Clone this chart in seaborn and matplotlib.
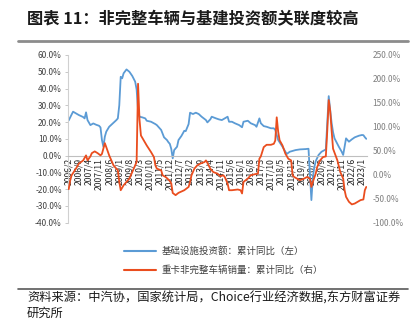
import matplotlib
matplotlib.use("Agg")
import matplotlib.pyplot as plt
from matplotlib.lines import Line2D
from matplotlib.ticker import FuncFormatter
import pandas as pd
import seaborn as sns

# 基础设施投资额：累计同比（%）
infra_months = [
    "2006-02", "2006-04", "2006-05", "2006-07", "2006-09", "2006-12", "2007-01", "2007-02",
    "2007-03", "2007-05", "2007-07", "2007-09", "2007-11", "2007-12", "2008-01", "2008-02",
    "2008-03", "2008-04", "2008-06", "2008-08", "2008-11", "2008-12", "2009-01", "2009-02",
    "2009-03", "2009-04", "2009-06", "2009-08", "2009-10", "2009-12", "2010-01", "2010-02",
    "2010-03", "2010-05", "2010-07", "2010-08", "2010-11", "2011-02", "2011-03", "2011-06",
    "2011-08", "2011-10", "2011-11", "2011-12", "2012-01", "2012-02", "2012-03", "2012-05",
    "2012-06", "2012-08", "2012-10", "2012-11", "2013-01", "2013-02", "2013-04", "2013-06",
    "2013-08", "2013-10", "2014-01", "2014-02", "2014-04", "2014-05", "2014-08", "2014-10",
    "2014-12", "2015-02", "2015-04", "2015-05", "2015-07", "2015-09", "2015-12", "2016-02",
    "2016-03", "2016-06", "2016-08", "2016-11", "2016-12", "2017-02", "2017-03", "2017-05",
    "2017-07", "2017-10", "2017-12", "2018-01", "2018-02", "2018-03", "2018-06", "2018-08",
    "2018-09", "2018-11", "2019-03", "2019-06", "2019-10", "2019-12", "2020-02", "2020-03",
    "2020-04", "2020-05", "2020-07", "2020-09", "2020-12", "2021-02", "2021-03", "2021-04",
    "2021-05", "2021-06", "2021-09", "2021-11", "2021-12", "2022-02", "2022-04", "2022-06",
    "2022-08", "2022-11", "2023-01", "2023-02", "2023-03", "2023-04",
]
infra_yoy = [
    21.0, 24.5, 26.2, 25.2, 24.2, 23.0, 22.2, 25.8,
    21.2, 18.2, 19.2, 18.4, 17.8, 16.8, 9.3, 5.3,
    11.3, 14.3, 17.2, 18.8, 21.2, 22.2, 30.0, 47.0,
    46.1, 49.1, 51.4, 50.0, 47.5, 44.1, 39.5, 27.0,
    23.2, 22.8, 22.2, 20.8, 20.2, 18.8, 18.2, 15.3,
    10.9, 9.3, 8.0, 7.0, 4.0, -1.6, 3.3, 5.3,
    9.3, 11.7, 14.8, 14.6, 18.8, 25.6, 24.8, 25.6,
    24.8, 23.2, 21.2, 19.8, 21.6, 23.2, 22.2, 21.6,
    21.2, 22.2, 23.2, 20.2, 20.2, 19.3, 18.2, 16.9,
    20.2, 20.8, 19.3, 18.2, 17.2, 22.2, 19.3, 17.6,
    17.2, 16.3, 16.3, 15.3, 12.3, 9.3, 5.3, 2.3,
    1.0, 2.3, 3.3, 3.7, 3.9, 4.1, -26.5, -13.0,
    -7.0, -3.3, 0.4, 2.3, 3.7, 35.5, 27.2, 19.5,
    14.0, 10.3, 5.3, 2.3, 0.4, 10.3, 8.3, 9.7,
    10.9, 11.9, 12.3, 12.2, 11.0, 10.0,
]

# 重卡非完整车辆销量：累计同比（%）
truck_months = [
    "2006-02", "2006-03", "2006-04", "2006-07", "2006-09", "2006-12", "2007-02", "2007-03",
    "2007-05", "2007-06", "2007-08", "2007-10", "2007-12", "2008-01", "2008-03", "2008-04",
    "2008-06", "2008-07", "2008-09", "2008-12", "2009-01", "2009-02", "2009-04", "2009-06",
    "2009-08", "2009-10", "2009-12", "2010-01", "2010-02", "2010-03", "2010-04", "2010-06",
    "2010-08", "2010-11", "2011-01", "2011-02", "2011-03", "2011-06", "2011-07", "2011-09",
    "2011-10", "2011-12", "2012-01", "2012-02", "2012-04", "2012-06", "2012-10", "2013-01",
    "2013-02", "2013-03", "2013-05", "2013-07", "2013-09", "2013-12", "2014-01", "2014-02",
    "2014-04", "2014-06", "2014-09", "2014-11", "2015-01", "2015-02", "2015-04", "2015-05",
    "2015-07", "2015-11", "2016-01", "2016-02", "2016-03", "2016-06", "2016-08", "2016-11",
    "2017-01", "2017-02", "2017-03", "2017-05", "2017-07", "2017-10", "2017-12", "2018-01",
    "2018-02", "2018-03", "2018-04", "2018-06", "2018-08", "2018-10", "2018-12", "2019-01",
    "2019-02", "2019-04", "2019-06", "2019-09", "2019-11", "2020-01", "2020-02", "2020-03",
    "2020-05", "2020-06", "2020-08", "2020-10", "2020-12", "2021-01", "2021-02", "2021-03",
    "2021-04", "2021-05", "2021-08", "2021-10", "2021-12", "2022-01", "2022-02", "2022-04",
    "2022-06", "2022-08", "2022-12", "2023-02", "2023-03", "2023-04",
]
truck_yoy = [
    -30.0, -12.0, -1.0, 12.9, 23.2, 30.0, 40.5, 30.0,
    38.4, 45.2, 48.8, 45.2, 40.5, 43.6, 66.0, 57.7,
    40.5, 33.6, 19.7, 9.3, -14.9, -32.2, -21.8, -14.9,
    -7.9, 5.8, 19.7, 26.6, 190.0, 115.0, 82.0, 71.6,
    61.2, 47.3, 36.9, 19.7, 12.9, 9.3, -1.0, -4.5,
    -7.0, -13.0, -18.0, -38.0, -42.5, -37.7, -32.2, -25.3,
    -14.9, -1.0, 12.9, 19.7, 23.2, 26.6, 30.0, 24.9,
    12.9, 5.8, 2.4, -3.1, -1.0, -4.5, -18.3, -32.2,
    -32.2, -30.7, -32.2, -39.0, -14.9, -7.9, -1.0, 1.3,
    2.4, 33.6, 38.4, 57.7, 62.6, 62.6, 64.7, 71.6,
    120.0, 90.0, 72.0, 61.2, 44.0, 33.6, 30.0, -1.0,
    -4.5, -7.9, -11.4, -7.9, -4.5, -7.9, -25.3, -15.0,
    2.4, 16.2, 30.0, 36.9, 38.4, 92.3, 156.0, 133.8,
    92.3, 54.4, 30.0, 5.8, -7.9, -32.2, -46.0, -56.4,
    -61.8, -60.0, -52.9, -51.5, -32.2, -25.3,
]

tick_labels = [
    "2006/2", "2006/9", "2007/4", "2007/11", "2008/6", "2009/1", "2009/8", "2010/3",
    "2010/10", "2011/5", "2011/12", "2012/7", "2013/2", "2013/9", "2014/4", "2014/11",
    "2015/6", "2016/1", "2016/8", "2017/3", "2017/10", "2018/5", "2018/12", "2019/7",
    "2020/2", "2020/9", "2021/4", "2021/11", "2022/6", "2023/1",
]

title_text = "图表 11：非完整车辆与基建投资额关联度较高"
infra_label = "基础设施投资额：累计同比（左）"
truck_label = "重卡非完整车辆销量：累计同比（右）"
source_text = "资料来源：中汽协，国家统计局，Choice行业经济数据,东方财富证券\n研究所"

BLUE = "#5B9BD5"
RED = "#EA4D1E"


def month_index(month):
    """Months elapsed since 2006/2 for 'YYYY-M' or 'YYYY/M' strings."""
    year, mon = month.replace("/", "-").split("-")
    return (int(year) - 2006) * 12 + int(mon) - 2


infra_df = pd.DataFrame({"t": [month_index(m) for m in infra_months], "yoy": infra_yoy})
truck_df = pd.DataFrame({"t": [month_index(m) for m in truck_months], "yoy": truck_yoy})
last_t = max(infra_df["t"].max(), truck_df["t"].max())

sns.set_style("white")
plt.rcParams["font.family"] = ["Noto Sans CJK SC", "DejaVu Sans"]
plt.rcParams["axes.unicode_minus"] = False

W, H = 417, 325
fig = plt.figure(figsize=(W / 100, H / 100), dpi=100)
ax = fig.add_axes([68 / W, 1 - 222.7 / H, (367 - 68) / W, (222.7 - 55) / H])
ax2 = ax.twinx()

sns.lineplot(data=infra_df, x="t", y="yoy", ax=ax, color=BLUE, linewidth=1.3)
sns.lineplot(data=truck_df, x="t", y="yoy", ax=ax2, color=RED, linewidth=1.3)

pct = FuncFormatter(lambda v, p: f"{v:.1f}%")

# left axis; the category axis crosses at 0 %
for side in ("top", "right"):
    ax.spines[side].set_visible(False)
ax.spines["bottom"].set_position(("data", 0))
ax.spines["bottom"].set_color("#BFBFBF")
ax.spines["bottom"].set_linewidth(0.8)
ax.spines["left"].set_color("#D0D0D0")
ax.spines["left"].set_linewidth(0.8)

ax.set_xlim(-0.5, last_t + 0.5)
ax.set_ylim(-40, 60)
ax.set_yticks(range(-40, 61, 10))
ax.yaxis.set_major_formatter(pct)
ax.set_xlabel("")
ax.set_ylabel("")
ax.set_xticks([month_index(l) for l in tick_labels])
ax.set_xticklabels(tick_labels)
ax.tick_params(axis="x", length=0, pad=1.5, labelrotation=90, labelsize=6.2,
               labelcolor="#262626")
ax.tick_params(axis="y", length=2.5, width=0.6, color="#BFBFBF", labelsize=6,
               labelcolor="#404040", pad=2)

# right axis
ax2.set_ylim(-100, 250)
ax2.set_yticks(range(-100, 251, 50))
ax2.yaxis.set_major_formatter(pct)
ax2.set_ylabel("")
ax2.tick_params(axis="y", length=0, labelsize=6, labelcolor="#7F7F7F", pad=4)
for side in ("top", "right", "left", "bottom"):
    ax2.spines[side].set_visible(False)

# legend below the plot
handles = [Line2D([], [], color=BLUE, linewidth=1.5), Line2D([], [], color=RED, linewidth=1.5)]
fig.legend(handles, [infra_label, truck_label], loc="upper left",
           bbox_to_anchor=(119 / W, 1 - 242 / H), frameon=False, fontsize=6.8,
           handlelength=3.4, handletextpad=0.6, labelspacing=0.95, borderpad=0,
           labelcolor="#404040")

# title and source
fig.text(27 / W, 1 - 19 / H, title_text, fontsize=11.7, fontweight="bold",
         ha="left", va="center", color="#1A1A1A")
fig.add_artist(Line2D([18 / W, 408 / W], [1 - 41 / H, 1 - 41 / H], color="#8C8C8C",
                      linewidth=2.0, transform=fig.transFigure))
fig.add_artist(Line2D([18 / W, 408 / W], [1 - 289 / H, 1 - 289 / H], color="#595959",
                      linewidth=1.2, transform=fig.transFigure))
fig.text(27 / W, 1 - 292 / H, source_text, fontsize=8.8, ha="left", va="top",
         color="#1A1A1A", linespacing=1.2)

fig.savefig("out.png", dpi=100)
